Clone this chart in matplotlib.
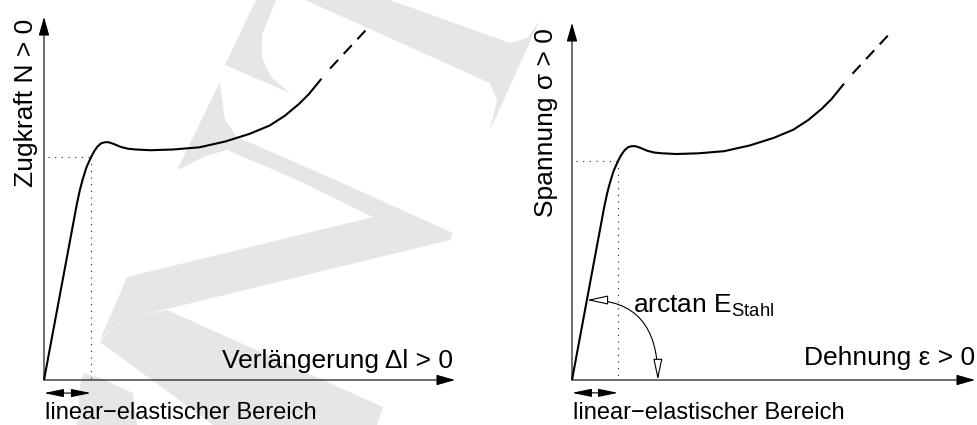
"""Zugversuch: Kraft-Verlängerungs- und Spannungs-Dehnungs-Diagramm (schematisch)."""
import matplotlib
matplotlib.use("Agg")
import matplotlib.pyplot as plt
from matplotlib.patches import Polygon

plt.rcParams["font.family"] = ["Liberation Sans", "DejaVu Sans"]
plt.rcParams["mathtext.fontset"] = "custom"
plt.rcParams["mathtext.rm"] = "Liberation Sans"

# schematic curve, same shape in both panels (axis units 0..10)
strain = [0, 0.80, 0.87, 0.94, 1.03, 1.14, 1.22, 1.30, 1.39, 1.48, 1.57, 1.68, 1.87, 2.05,
          2.24, 2.59, 3.14, 3.78, 4.41, 5.00, 5.49, 5.86, 6.20, 6.44, 6.75]
stress = [0, 4.85, 5.22, 5.52, 5.85, 6.13, 6.30, 6.43, 6.52, 6.55, 6.55, 6.51, 6.42, 6.37,
          6.35, 6.33, 6.35, 6.41, 6.57, 6.78, 7.01, 7.28, 7.60, 7.87, 8.30]
ext_strain = [6.96, 7.93]          # dashed continuation
ext_stress = [8.58, 9.76]
yield_strain, yield_stress = 1.14, 6.13
arc_stress = 2.24                  # where the angle arrow meets the elastic line
arc_end_strain = 2.13

x_labels = ["Verlängerung Δl > 0", "Dehnung ε > 0"]
y_labels = ["Zugkraft N > 0", "Spannung σ > 0"]
range_label = "linear\u2212elastischer Bereich"
angle_label = r"arctan E$_{\mathrm{Stahl}}$"

# faint background watermark (figure pixels, y down)
watermark = [
    [(256, 0), (276, 0), (262, 35), (262, 58), (272, 78), (290, 93), (225, 65)],
    [(305, 0), (490, 83), (497, 100), (490, 130), (540, 20), (527, 38), (510, 43), (390, 0)],
    [(220, 82), (222, 100), (225, 120), (237, 137), (340, 182), (453, 233), (450, 240),
     (167, 309), (130, 318), (112, 328), (100, 340), (127, 277), (373, 217), (297, 180),
     (227, 150), (205, 156), (188, 165), (177, 170)],
    [(167, 310), (383, 407), (377, 425), (213, 425), (100, 342), (112, 328), (130, 318)],
    [(77, 425), (80, 385), (84, 373), (100, 378), (133, 393), (137, 425)],
]

W, H = 978, 425
fig = plt.figure(figsize=(W / 100, H / 100), dpi=100)
bg = fig.add_axes([0, 0, 1, 1], zorder=0)
bg.set_xlim(0, W); bg.set_ylim(H, 0); bg.axis("off")
for poly in watermark:
    bg.add_patch(Polygon(poly, closed=True, fc="#e6e6e6", ec="none"))

panels = [
    fig.add_axes([44 / W, 45 / H, 411 / W, 363 / H], zorder=1),
    fig.add_axes([572 / W, 45 / H, 403 / W, 357 / H], zorder=1),
]
FS = 19
axis_arrow = dict(arrowstyle="-|>,head_length=1.15,head_width=0.33", fc="k", ec="k",
                  lw=0.8, shrinkA=0, shrinkB=0, mutation_scale=10)
span_arrow = dict(arrowstyle="<|-|>,head_length=1.2,head_width=0.25", fc="k", ec="k",
                  lw=0.8, shrinkA=0, shrinkB=0, mutation_scale=10)

for i, ax in enumerate(panels):
    ax.set_xlim(0, 10); ax.set_ylim(0, 10); ax.axis("off"); ax.patch.set_alpha(0)
    ax.annotate("", xy=(10, 0), xytext=(0, 0), arrowprops=axis_arrow, annotation_clip=False)
    ax.annotate("", xy=(0, 10), xytext=(0, 0), arrowprops=axis_arrow, annotation_clip=False)
    ax.plot(strain, stress, color="k", lw=1.5, solid_capstyle="butt", clip_on=False)
    ax.plot(ext_strain, ext_stress, color="k", lw=1.5, ls=(0, (5.7, 3.9)), clip_on=False)
    ax.plot([0.1, yield_strain], [yield_stress, yield_stress], color="#222", lw=0.8, ls=(0, (1, 5)))
    ax.plot([yield_strain, yield_strain], [yield_stress, 0], color="#222", lw=0.8, ls=(0, (1, 5)))
    ax.annotate("", xy=(0, -0.36), xytext=(yield_strain, -0.36), arrowprops=span_arrow,
                annotation_clip=False)
    ax.text(0.02, -1.07 if i == 0 else -1.09, range_label, fontsize=17, ha="left", va="baseline")
    ax.text(9.95 if i == 0 else 10.0, 0.33 if i == 0 else 0.42, x_labels[i], fontsize=FS,
            ha="right", va="baseline")
    ax.text(-0.27 if i == 0 else -0.47, 9.95 if i == 0 else 9.86, y_labels[i], fontsize=FS,
            rotation=90, rotation_mode="anchor", ha="right", va="baseline")

ax = panels[1]
arc_strain = arc_stress * strain[1] / stress[1]
ax.annotate("", xy=(arc_end_strain, 0), xytext=(arc_strain, arc_stress),
            arrowprops=dict(arrowstyle="<|-|>,head_length=1.3,head_width=0.28", fc="white",
                            ec="k", lw=0.8, shrinkA=0, shrinkB=0, mutation_scale=10,
                            connectionstyle="angle3,angleA=0,angleB=90"))
ax.text(1.51, 1.90, angle_label, fontsize=FS, ha="left", va="baseline")

fig.savefig("out.png", dpi=100)
